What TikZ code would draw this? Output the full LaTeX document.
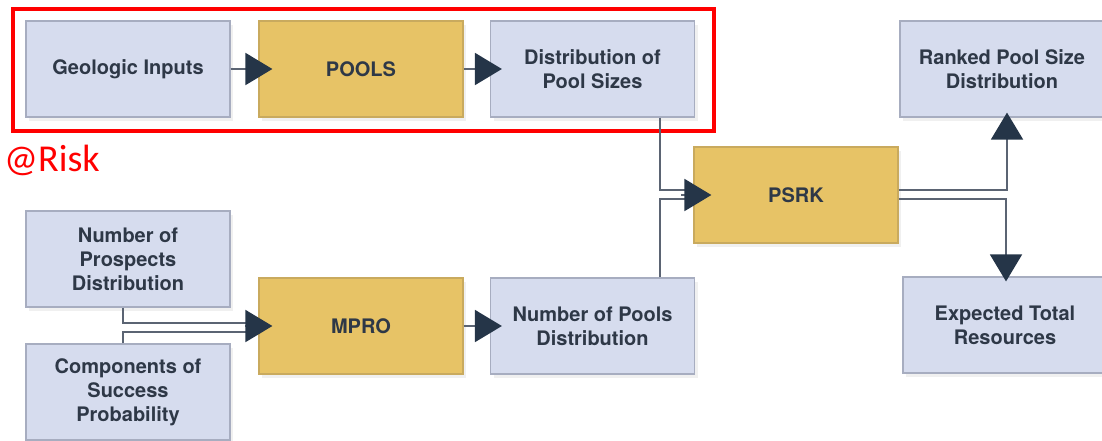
\documentclass[tikz,border=0pt]{standalone}
\usepackage{fontspec}
\setmainfont{TeX Gyre Heros}
\newfontfamily\calibrifont{Carlito}
\usetikzlibrary{arrows.meta,shadows,calc}
\definecolor{boxfill}{HTML}{D6DCEE}
\definecolor{boxline}{HTML}{A7ADC0}
\definecolor{gold}{HTML}{E7C366}
\definecolor{goldline}{HTML}{C9AA5E}
\definecolor{txt}{HTML}{2E3847}
\definecolor{navy}{HTML}{253548}
\definecolor{wirecol}{HTML}{5B6473}
\tikzset{
  blk/.style={draw=boxline, line width=1.2pt, fill=boxfill, minimum width=204pt,
    minimum height=96pt, inner sep=0pt, align=center,
    font=\fontsize{20}{24}\selectfont\bfseries, text=txt,
    drop shadow={opacity=0.12, shadow xshift=3pt, shadow yshift=-4pt}},
  proc/.style={blk, fill=gold, draw=goldline},
  conn/.style={draw=wirecol, line width=1.8pt},
  wire/.style={conn, -{Triangle[length=27pt,width=32pt,color=navy]}},
}
\begin{document}
\begin{tikzpicture}[x=1pt,y=-1pt]
\useasboundingbox (0,0) rectangle (1102,440);
% boxes
\node[blk]  (geo)      at (128,69)    {Geologic Inputs};
\node[proc] (pools)    at (361,69)    {POOLS};
\node[blk]  (dist)     at (592.5,69)  {Distribution of\\Pool Sizes};
\node[blk]  (ranked)   at (1002,69)   {Ranked Pool Size\\Distribution};
\node[proc] (psrk)     at (796,195)   {PSRK};
\node[blk]  (nprosp)   at (128,259)   {Number of\\Prospects\\Distribution};
\node[blk]  (comp)     at (128,392)   {Components of\\Success\\Probability};
\node[proc] (mpro)     at (361,326)   {MPRO};
\node[blk]  (npools)   at (592.5,326) {Number of Pools\\Distribution};
\node[blk]  (expected) at (1005,325)  {Expected Total\\Resources};
% red frame and label
\node[draw=red, line width=4pt, minimum width=701pt, minimum height=122pt, inner sep=0pt]
  (riskbox) at (363,70) {};
\node[text=red, font=\calibrifont\fontsize{38}{44}\selectfont, anchor=base west, inner sep=0pt]
  (risk) at (4,171) {@Risk};
% connectors
\draw[wire] (geo.east) -- ($(pools.west)+(14,0)$);
\draw[wire] (pools.east) -- ($(dist.west)+(12,0)$);
\draw[conn] ($(dist.south)+(67.5,0)$) |- ($(psrk.west)+(-5,-5)$);
\draw[conn] ($(npools.north)+(67.5,0)$) |- ($(psrk.west)+(-5,4)$);
\draw[wire] ($(psrk.west)+(-12,0)$) -- ($(psrk.west)+(18,0)$);
\draw[wire] ($(psrk.east)+(0,-5)$) -| ($(ranked.south)+(5,-5)$);
\draw[wire] ($(psrk.east)+(0,4)$) -| ($(expected.north)+(1,5)$);
\draw[conn] ($(nprosp.south)+(-5,0)$) |- ($(mpro.west)+(-5,-3)$);
\draw[conn] ($(comp.north)+(-5,0)$) |- ($(mpro.west)+(-5,6)$);
\draw[wire] ($(mpro.west)+(-13,0)$) -- ($(mpro.west)+(14,0)$);
\draw[wire] (mpro.east) -- ($(npools.west)+(12,0)$);
\end{tikzpicture}
\end{document}
